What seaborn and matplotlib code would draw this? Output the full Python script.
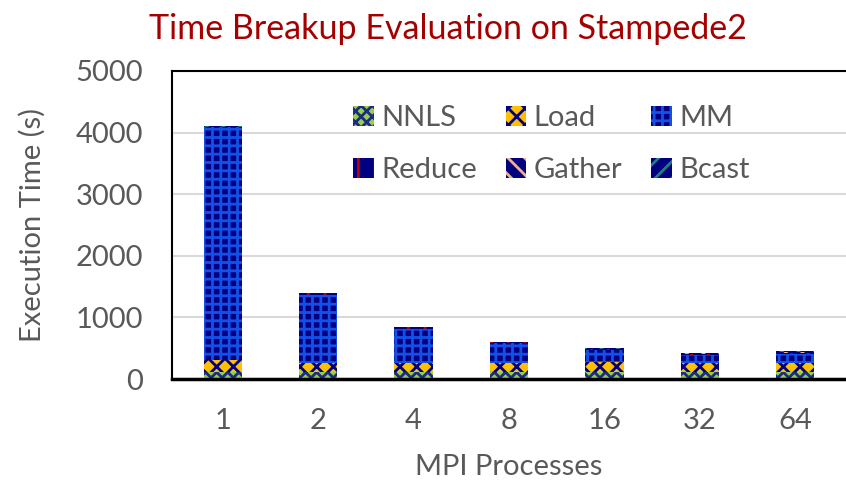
import numpy as np
import matplotlib
matplotlib.use("Agg")
import matplotlib.pyplot as plt
from matplotlib.patches import Patch
import seaborn as sns

sns.set_theme(style="white")
plt.rcParams["font.family"] = ["Lato", "DejaVu Sans"]
plt.rcParams["hatch.linewidth"] = 2.0

# dados
processos = ["1", "2", "4", "8", "16", "32", "64"]
nnls = [110, 110, 110, 110, 110, 110, 110]
load = [200, 150, 150, 150, 165, 145, 145]
mm = [3780, 1110, 555, 320, 190, 140, 150]
reduce_ = [5, 20, 22, 15, 15, 12, 15]
gather = [3, 8, 8, 8, 8, 8, 12]
bcast = [2, 4, 5, 5, 8, 8, 25]

nomes = ["NNLS", "Load", "MM", "Reduce", "Gather", "Bcast"]
series = [nnls, load, mm, reduce_, gather, bcast]
faces = ["#92D050", "#FFC000", "#000080", "#000080", "#000080", "#000080"]
hatch_cores = ["#1F2A80", "#000080", "#1450E6", "#C00000", "#F4B183", "#1F7F7F"]
hatches = ["xxx", "xx", "++", "|", "\\\\", "//"]

cinza = "#595959"

fig = plt.figure(figsize=(8.46, 4.8), dpi=100)
ax = fig.add_axes([172 / 846, 1 - 379 / 480, 1 - 172 / 846, (379 - 71) / 480])

acumulado = np.cumsum(np.array(series), axis=0)

# empilhamento: desenha do topo para a base
for i in reversed(range(len(series))):
    sns.barplot(x=processos, y=acumulado[i], order=processos, ax=ax,
                color=faces[i], saturation=1, width=0.4,
                hatch=hatches[i], edgecolor=hatch_cores[i], linewidth=0)

ax.set_ylim(0, 5000)
ax.set_xlim(-0.53, 6.53)
ax.set_yticks([0, 1000, 2000, 3000, 4000, 5000])
ax.yaxis.grid(True, color="#D9D9D9", linewidth=1.5)
ax.set_axisbelow(True)

for lado in ["top", "left"]:
    ax.spines[lado].set_color("#000000")
    ax.spines[lado].set_linewidth(1.5)
ax.spines["bottom"].set_color("#000000")
ax.spines["bottom"].set_linewidth(2.5)
ax.spines["right"].set_visible(False)

ax.tick_params(axis="both", labelsize=21, colors=cinza, length=0)
ax.tick_params(axis="x", pad=21)
ax.tick_params(axis="y", pad=21)
ax.set_xlabel("MPI Processes", fontsize=21, color=cinza, labelpad=14)
ax.set_ylabel("Execution Time (s)", fontsize=21, color=cinza, labelpad=21)

fig.suptitle("Time Breakup Evaluation on Stampede2", fontsize=24.5,
             color="#A50000", x=0.53, y=0.972)

handles = [Patch(facecolor=faces[i], edgecolor=hatch_cores[i], hatch=hatches[i],
                 linewidth=0, label=nomes[i]) for i in range(len(nomes))]
ordem = [0, 3, 1, 4, 2, 5]
leg = ax.legend([handles[i] for i in ordem], [nomes[i] for i in ordem],
                ncol=3, frameon=False, fontsize=21, labelcolor=cinza,
                loc="upper left", bbox_to_anchor=(0.23, 0.975),
                handlelength=0.7, handleheight=0.7, handletextpad=0.25,
                columnspacing=1.0, labelspacing=0.9)

fig.savefig("out.png", dpi=100)
